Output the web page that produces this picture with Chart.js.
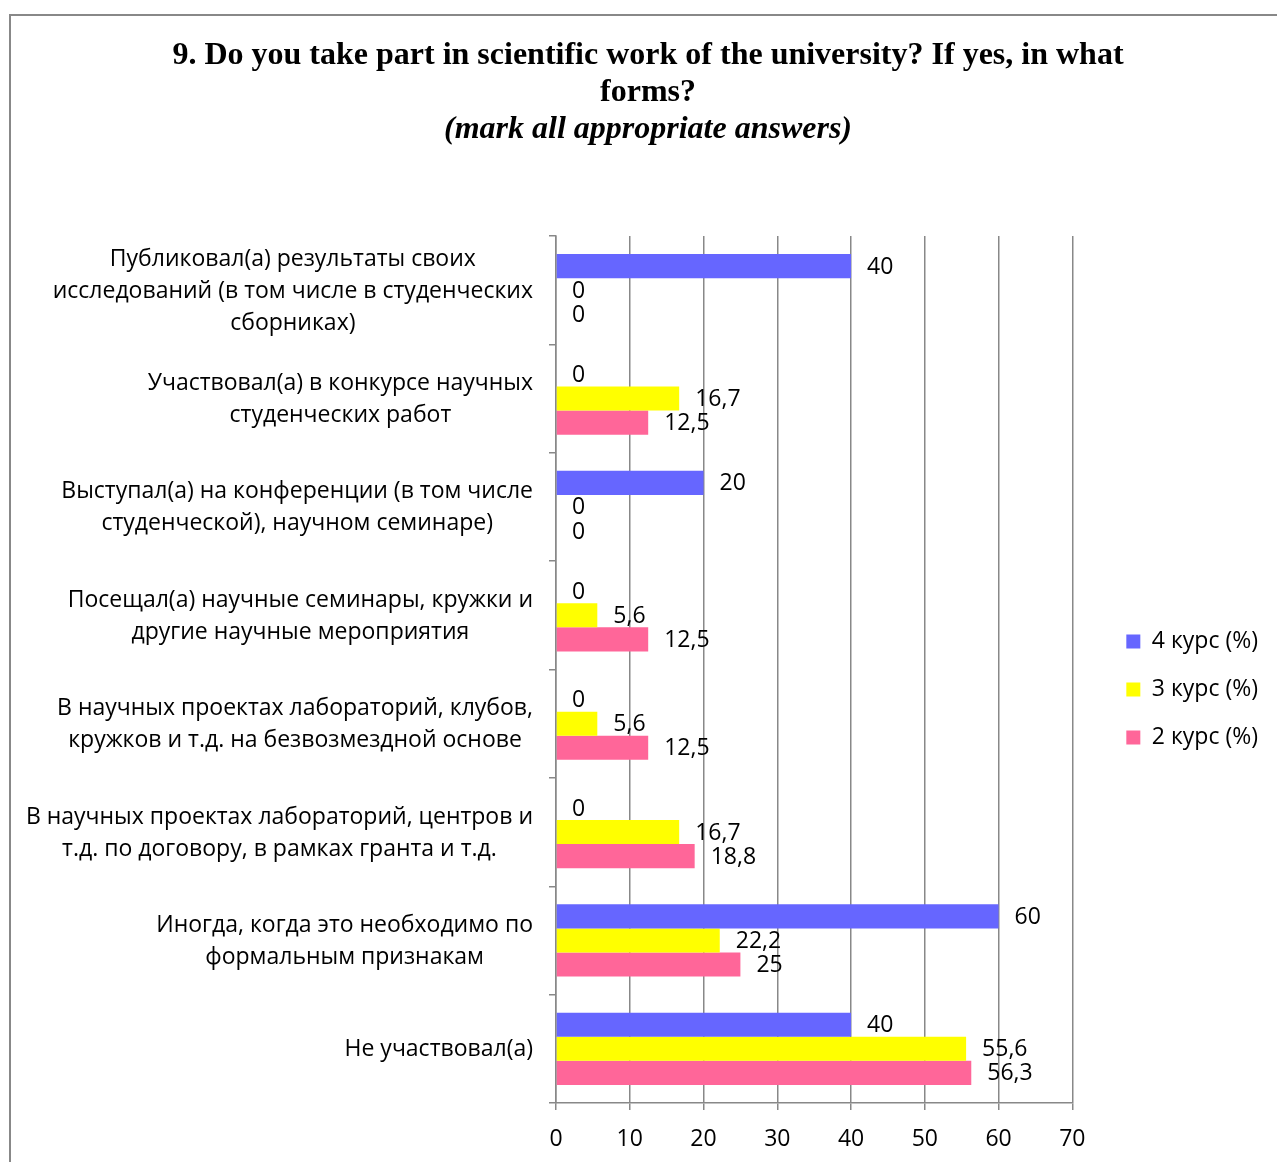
<!DOCTYPE html>
<html lang="ru">
<head>
<meta charset="UTF-8">
<title>Научная работа</title>
<script src="https://cdn.jsdelivr.net/npm/chart.js@4/dist/chart.umd.min.js"></script>
<style>
  html, body { margin:0; padding:0; background:#fff; }
  #wrap { position:relative; width:1277px; height:1162px; overflow:hidden; }
  #frame { position:absolute; left:9px; top:14px; width:1400px; height:1300px; border-left:2px solid #888; border-top:2px solid #888; }
  canvas { position:absolute; left:0; top:0; }
</style>
</head>
<body>
<div id="wrap">
  <div id="frame"></div>
  <canvas id="chart" width="1277" height="1162"></canvas>
</div>

<script>
const categories = [
  ['Публиковал(а) результаты своих', 'исследований (в том числе в студенческих', 'сборниках)'],
  ['Участвовал(а) в конкурсе научных', 'студенческих работ'],
  ['Выступал(а) на конференции (в том числе', 'студенческой), научном семинаре)'],
  ['Посещал(а) научные семинары, кружки и', 'другие научные мероприятия'],
  ['В научных проектах лабораторий, клубов,', 'кружков и т.д. на безвозмездной основе'],
  ['В научных проектах лабораторий, центров и', 'т.д. по договору, в рамках гранта и т.д.'],
  ['Иногда, когда это необходимо по', 'формальным признакам'],
  ['Не участвовал(а)']
];
const seriesNames = ['4 курс (%)', '3 курс (%)', '2 курс (%)'];
const course4 = [40, 0, 20, 0, 0, 0, 60, 40];
const course3 = [0, 16.7, 0, 5.6, 5.6, 16.7, 22.2, 55.6];
const course2 = [0, 12.5, 0, 12.5, 12.5, 18.8, 25, 56.3];
const xMin = 0, xMax = 70, xStep = 10;
const colors = ['#6666ff', '#ffff00', '#ff6699'];

const FONT = '"Open Sans", "Noto Sans", sans-serif';
const FSIZE = 23;
const GRID = '#888888';

// подписи значений справа от столбиков
const valueLabels = {
  id: 'valueLabels',
  afterDatasetsDraw(chart) {
    const ctx = chart.ctx;
    ctx.save();
    ctx.font = FSIZE + 'px ' + FONT;
    ctx.fillStyle = '#000';
    ctx.textAlign = 'left';
    ctx.textBaseline = 'middle';
    chart.data.datasets.forEach((ds, i) => {
      chart.getDatasetMeta(i).data.forEach((bar, j) => {
        ctx.fillText(String(ds.data[j]).replace('.', ','), bar.x + 16, bar.y + 1);
      });
    });
    ctx.restore();
  }
};

// подписи категорий: блок прижат вправо, строки по центру блока
const categoryLabels = {
  id: 'categoryLabels',
  afterDraw(chart) {
    const scale = chart.scales.y;
    const ctx = chart.ctx;
    const right = chart.chartArea.left - 23;
    ctx.save();
    ctx.font = FSIZE + 'px ' + FONT;
    ctx.fillStyle = '#000';
    ctx.textAlign = 'center';
    ctx.textBaseline = 'middle';
    categories.forEach((lines, i) => {
      const w = Math.max(...lines.map(l => ctx.measureText(l).width));
      const cx = right - w / 2;
      const cy = scale.getPixelForValue(i) + 1;
      lines.forEach((l, k) => ctx.fillText(l, cx, cy + (k - (lines.length - 1) / 2) * 32));
    });
    ctx.restore();
  }
};

// сдвиг легенды ближе к исходному положению
const legendShift = {
  id: 'legendShift',
  afterLayout(chart) {
    const lg = chart.legend;
    lg.left += 29; lg.right += 29;
    lg.top += 20; lg.bottom += 20;
  }
};

const PAD_R = 38;

new Chart(document.getElementById('chart'), {
  type: 'bar',
  data: {
    labels: categories,
    datasets: [
      { label: seriesNames[0], data: course4, backgroundColor: colors[0] },
      { label: seriesNames[1], data: course3, backgroundColor: colors[1] },
      { label: seriesNames[2], data: course2, backgroundColor: colors[2] }
    ]
  },
  options: {
    indexAxis: 'y',
    responsive: false,
    animation: false,
    devicePixelRatio: 1,
    datasets: { bar: { barPercentage: 1, categoryPercentage: 0.667, borderWidth: 0 } },
    layout: { padding: { left: PAD_R + 19, right: PAD_R, top: 20, bottom: 0 } },
    plugins: {
      title: {
        display: true,
        text: ['9. Do you take part in scientific work of the university? If yes, in what', 'forms?'],
        color: '#000',
        font: { family: '"Liberation Serif", "Times New Roman", serif', size: 32, weight: 'bold', lineHeight: '37px' },
        padding: { top: 17.5, bottom: 0 }
      },
      subtitle: {
        display: true,
        text: '(mark all appropriate answers)',
        color: '#000',
        font: { family: '"Liberation Serif", "Times New Roman", serif', size: 32, weight: 'bold', style: 'italic', lineHeight: '37px' },
        padding: { top: 0, bottom: 87.5 }
      },
      legend: {
        position: 'right',
        fullSize: false,
        labels: {
          boxWidth: 14, boxHeight: 14, padding: 25, color: '#000',
          font: { family: FONT, size: FSIZE }
        }
      },
      tooltip: { enabled: false }
    },
    scales: {
      x: {
        min: xMin, max: xMax,
        ticks: { stepSize: xStep, color: '#000', padding: 16, font: { family: FONT, size: FSIZE } },
        grid: { color: GRID, lineWidth: 1.5, tickLength: 7 },
        border: { color: GRID, width: 1.5 },
        afterFit: s => { s.height = 59; }
      },
      y: {
        ticks: { display: false },
        grid: { drawOnChartArea: false, color: GRID, lineWidth: 1.5, tickLength: 7 },
        border: { color: GRID, width: 1.5 },
        afterFit: s => { s.width = 556 - (PAD_R + 19); }
      }
    }
  },
  plugins: [valueLabels, categoryLabels, legendShift]
});
</script>
</body>
</html>
